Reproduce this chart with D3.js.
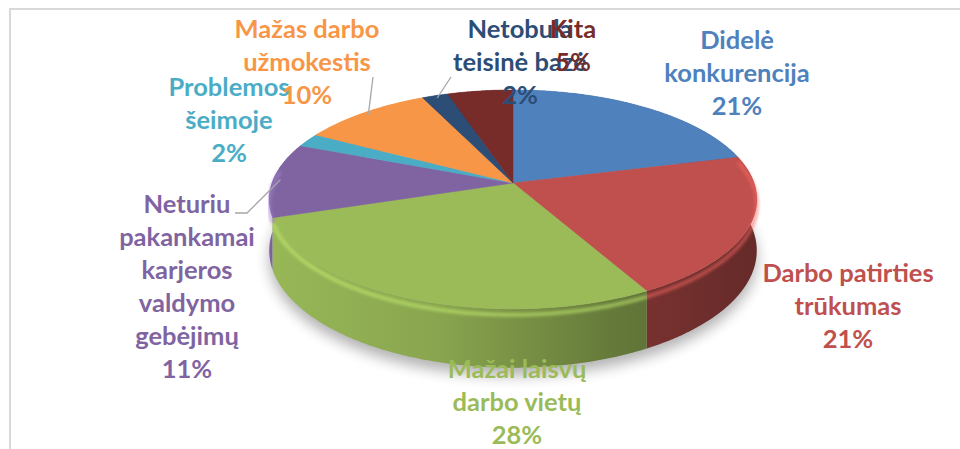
<!DOCTYPE html>
<html>
<head>
<meta charset="utf-8">
<script src="https://cdn.jsdelivr.net/npm/d3@7"></script>
<style>
  body { margin: 0; background: #fff; }
  svg { display: block; }
</style>
</head>
<body>
<div id="chart"></div>
<script>
// data
var categories = ["Didelė konkurencija", "Darbo patirties trūkumas", "Mažai laisvų darbo vietų",
    "Neturiu pakankamai karjeros valdymo gebėjimų", "Problemos šeimoje", "Mažas darbo užmokestis",
    "Netobula teisinė bazė", "Kita"];
var values = [21, 21, 28, 11, 2, 10, 2, 5];
var labelLines = [["Didelė", "konkurencija"], ["Darbo patirties", "trūkumas"], ["Mažai laisvų", "darbo vietų"],
    ["Neturiu", "pakankamai", "karjeros", "valdymo", "gebėjimų"], ["Problemos", "šeimoje"],
    ["Mažas darbo", "užmokestis"], ["Netobula", "teisinė bazė"], ["Kita"]];
var colors = ["#4F81BD", "#C0504D", "#9BBB59", "#8064A2", "#4BACC6", "#F79646", "#2C4D75", "#772C2A"];

// label layout (centre x, first baseline) and leader lines
var labelPos = [[737, 49], [848, 282], [517, 378], [187, 213], [229, 96], [307, 38], [520, 38], [573, 38]];
var leaders = { 3: [[235, 213], [247, 213]], 5: [[373, 77]], 6: [[451, 77]] };

var width = 960, height = 449;
var cx = 513, cy = 183;     // projected pie centre
var R = 241, S = 107, T = 50, a = 0.15;  // radius, depth scale, thickness, perspective

function proj(t, r, h) {
    var X = r * Math.sin(t), Z = -r * Math.cos(t);
    var f = 1 / (1 - a * Z);
    return [cx + R * X * f, cy + (S * Z + T * h) * f];
}

function arcPts(t0, t1, r, h) {
    var n = Math.max(2, Math.ceil((t1 - t0) / 0.01));
    return d3.range(n + 1).map(i => proj(t0 + (t1 - t0) * i / n, r, h));
}

var svg = d3.select("#chart").append("svg")
    .attr("width", width)
    .attr("height", height);

var defs = svg.append("defs");
defs.append("filter").attr("id", "shadow").attr("x", "-20%").attr("y", "-20%").attr("width", "140%").attr("height", "140%")
    .append("feGaussianBlur").attr("stdDeviation", 7);
defs.append("filter").attr("id", "soft")
    .append("feGaussianBlur").attr("stdDeviation", 1.6);

// frame
svg.append("rect")
    .attr("x", 10).attr("y", 9)
    .attr("width", 1000).attr("height", 1000)
    .attr("fill", "none")
    .attr("stroke", "#d9d9d9")
    .attr("stroke-width", 2);

var line = d3.line();
var pie = d3.pie().sort(null).value(d => d);
var arcs = pie(values);
var total = d3.sum(values);

// drop shadow under the pie
svg.append("path")
    .attr("d", line(arcPts(0, 2 * Math.PI, 1, 1)) + "Z")
    .attr("transform", "translate(0,8)")
    .attr("fill", "#000")
    .attr("opacity", 0.3)
    .attr("filter", "url(#shadow)");

// side wall gradients, light on the left, dark on the right
arcs.forEach((d, i) => {
    var c = d3.color(colors[i]);
    var g = defs.append("linearGradient").attr("id", "side" + i)
        .attr("gradientUnits", "userSpaceOnUse")
        .attr("x1", cx - R * 1.02).attr("x2", cx + R * 1.02)
        .attr("y1", 0).attr("y2", 0);
    g.append("stop").attr("offset", 0).attr("stop-color", c.darker(0.05));
    g.append("stop").attr("offset", 0.35).attr("stop-color", c.darker(0.35));
    g.append("stop").attr("offset", 0.7).attr("stop-color", c.darker(1.2));
    g.append("stop").attr("offset", 1).attr("stop-color", c.darker(1.8));
});

// walls, back to front
var order = arcs.map((d, i) => i).sort((p, q) =>
    -Math.cos((arcs[q].startAngle + arcs[q].endAngle) / 2) + Math.cos((arcs[p].startAngle + arcs[p].endAngle) / 2) < 0 ? 1 : -1);
order.forEach(i => {
    var d = arcs[i];
    var pts = arcPts(d.startAngle, d.endAngle, 1, 0).concat(arcPts(d.startAngle, d.endAngle, 1, 1).reverse());
    svg.append("path")
        .attr("d", line(pts) + "Z")
        .attr("fill", "url(#side" + i + ")");
});

// top faces
arcs.forEach((d, i) => {
    var pts = [[cx, cy]].concat(arcPts(d.startAngle, d.endAngle, 1, 0));
    svg.append("path")
        .attr("d", line(pts) + "Z")
        .attr("fill", colors[i])
        .attr("stroke", colors[i])
        .attr("stroke-width", 0.5);
});

// rim highlight along the front edge
arcs.forEach((d, i) => {
    var t0 = Math.max(d.startAngle, Math.PI * 0.42), t1 = Math.min(d.endAngle, Math.PI * 1.55);
    if (t1 <= t0) return;
    svg.append("path")
        .attr("d", line(arcPts(t0, t1, 1, 0.1)))
        .attr("fill", "none")
        .attr("stroke", d3.color(colors[i]).brighter(0.7))
        .attr("stroke-width", 4)
        .attr("opacity", 0.55)
        .attr("filter", "url(#soft)");
});

// leader lines
Object.keys(leaders).forEach(k => {
    var d = arcs[k];
    var end = proj((d.startAngle + d.endAngle) / 2, 0.97, 0);
    svg.append("path")
        .attr("d", line(leaders[k].concat([end])))
        .attr("fill", "none")
        .attr("stroke", "#a6a6a6")
        .attr("stroke-width", 1.3);
});

// data labels
var lh = 33;
arcs.forEach((d, i) => {
    var lines = labelLines[i].concat([Math.round(d.value / total * 100) + "%"]);
    var t = svg.append("text")
        .attr("text-anchor", "middle")
        .attr("font-family", "Lato, 'Open Sans', sans-serif")
        .attr("font-weight", "bold")
        .attr("font-size", 25.5)
        .attr("fill", colors[i]);
    lines.forEach((s, j) => {
        t.append("tspan")
            .attr("x", labelPos[i][0])
            .attr("y", labelPos[i][1] + j * lh)
            .text(s);
    });
});
</script>
</body>
</html>
